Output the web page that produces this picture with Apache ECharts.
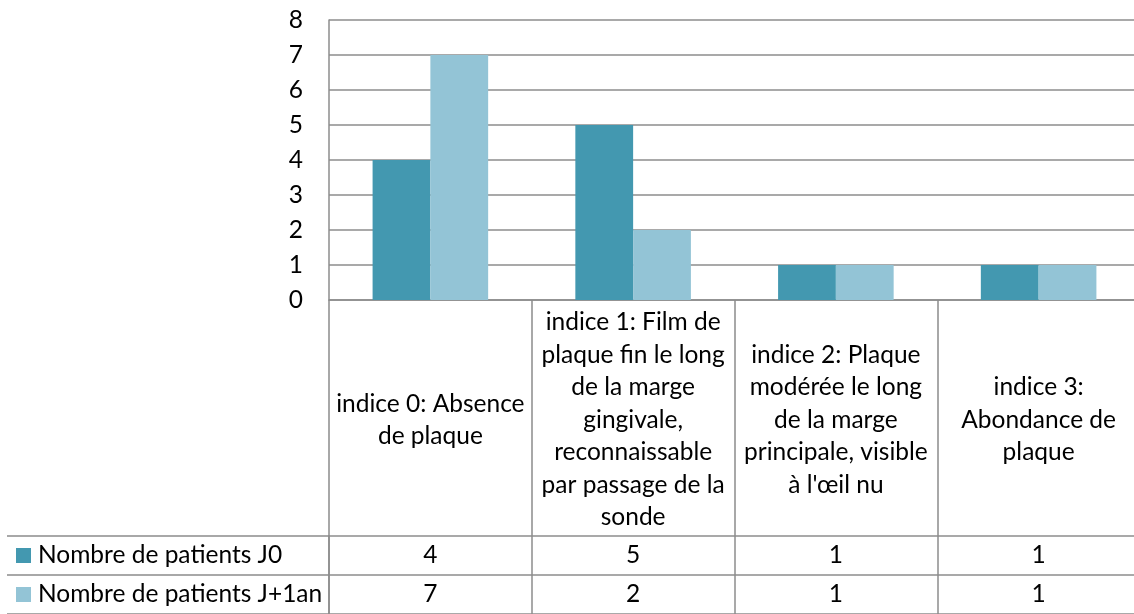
<!DOCTYPE html>
<html>
<head>
<meta charset="utf-8">
<script src="https://cdn.jsdelivr.net/npm/echarts@6/dist/echarts.min.js"></script>
<style>
  html, body { margin: 0; padding: 0; background: #fff; overflow: hidden; }
  /* the plot and table run a little past the right edge of the window */
  #chart { width: 1160px; height: 614px; }
</style>
</head>
<body>
<div id="chart"></div>
<script>
// Plaque index categories (header text, wrapped as in the data table)
const categories = [
  'indice 0: Absence\nde plaque',
  'indice 1: Film de\nplaque fin le long\nde la marge\ngingivale,\nreconnaissable\npar passage de la\nsonde',
  'indice 2: Plaque\nmodérée le long\nde la marge\nprincipale, visible\nà l\'œil nu',
  'indice 3:\nAbondance de\nplaque'
];
const seriesNames = ['Nombre de patients J0', 'Nombre de patients J+1an'];
const patientsJ0 = [4, 5, 1, 1];
const patientsJ1an = [7, 2, 1, 1];
const yTicks = { min: 0, max: 8, interval: 1 };

const colors = ['#4398B0', '#93C4D6'];
const lineColor = '#8c8c8c';
const FONT = 'Lato, "Open Sans", sans-serif';
const FS = 24.5;

// cells of the data table: [category index, row index, value]
const tableCells = [];
[patientsJ0, patientsJ1an].forEach((vals, r) => {
  vals.forEach((v, c) => tableCells.push([c, r, v]));
});

const chart = echarts.init(document.getElementById('chart'), null, { renderer: 'canvas' });

chart.setOption({
  animation: false,
  textStyle: { fontFamily: FONT },
  grid: [
    { left: 329, top: 20, width: 811, height: 280, containLabel: false },
    { left: 329, top: 536, width: 811, height: 84, containLabel: false }
  ],
  xAxis: [
    {
      type: 'category', gridIndex: 0, data: categories,
      axisLine: { show: true, lineStyle: { color: lineColor, width: 1.5 } },
      axisTick: { show: true, interval: 0, length: 236, lineStyle: { color: lineColor, width: 1.5 } },
      axisLabel: {
        interval: 0, margin: 120, verticalAlign: 'middle', align: 'center',
        lineHeight: 32.5, fontSize: FS, fontFamily: FONT, color: '#000'
      },
      splitLine: { show: false }
    },
    {
      type: 'category', gridIndex: 1, data: categories,
      axisLine: { show: false }, axisTick: { show: false }, axisLabel: { show: false },
      splitLine: { show: true, interval: 0, lineStyle: { color: lineColor, width: 1.5 } }
    }
  ],
  yAxis: [
    {
      type: 'value', gridIndex: 0, min: yTicks.min, max: yTicks.max, interval: yTicks.interval,
      axisLine: { show: true, lineStyle: { color: lineColor, width: 1.5 } },
      axisTick: { show: false },
      axisLabel: { margin: 26, fontSize: FS, fontFamily: FONT, color: '#000' },
      splitLine: { show: true, lineStyle: { color: lineColor, width: 1.5 } }
    },
    {
      type: 'category', gridIndex: 1, data: seriesNames, inverse: true,
      axisLine: { show: true, lineStyle: { color: lineColor, width: 1.5 } },
      axisTick: { show: true, interval: 0, length: 322, lineStyle: { color: lineColor, width: 1.5 } },
      splitLine: { show: true, interval: 0, lineStyle: { color: lineColor, width: 1.5 } },
      axisLabel: {
        interval: 0, margin: 313, align: 'left', fontSize: FS, fontFamily: FONT, color: '#000',
        formatter: (name, i) => '{m' + i + '|}{t|' + name + '}',
        rich: {
          m0: { backgroundColor: colors[0], width: 15, height: 15 },
          m1: { backgroundColor: colors[1], width: 15, height: 15 },
          t: { fontSize: FS, fontFamily: FONT, color: '#000', padding: [0, 0, 0, 7] }
        }
      }
    },
    {
      // outer left border of the row-label column
      type: 'category', gridIndex: 1, data: seriesNames, inverse: true, offset: 322,
      axisLine: { show: true, lineStyle: { color: lineColor, width: 1.5 } },
      axisTick: { show: false }, axisLabel: { show: false }, splitLine: { show: false }
    }
  ],
  series: [
    {
      name: seriesNames[0], type: 'bar', xAxisIndex: 0, yAxisIndex: 0,
      data: patientsJ0, barGap: '0%', barCategoryGap: '43%',
      itemStyle: { color: colors[0] }
    },
    {
      name: seriesNames[1], type: 'bar', xAxisIndex: 0, yAxisIndex: 0,
      data: patientsJ1an, barGap: '0%', barCategoryGap: '43%',
      itemStyle: { color: colors[1] }
    },
    {
      type: 'custom', xAxisIndex: 1, yAxisIndex: 1, data: tableCells,
      renderItem: (params, api) => {
        const p = api.coord([api.value(0), api.value(1)]);
        return {
          type: 'text',
          style: {
            x: p[0], y: p[1], text: String(api.value(2)),
            align: 'center', verticalAlign: 'middle',
            fontSize: FS, fontFamily: FONT, fill: '#000'
          }
        };
      }
    }
  ]
});
</script>
</body>
</html>
